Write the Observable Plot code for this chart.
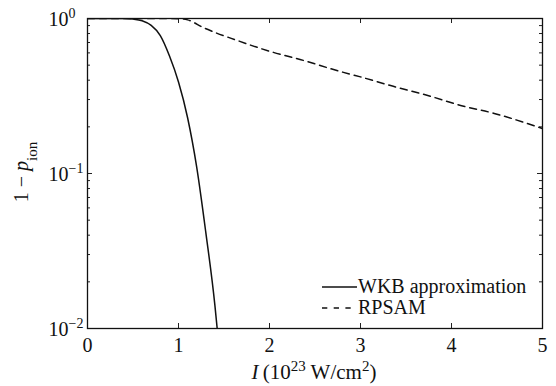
<!DOCTYPE html>
<html><head><meta charset="utf-8">
<script src="https://cdn.jsdelivr.net/npm/d3@7"></script>
<script src="https://cdn.jsdelivr.net/npm/@observablehq/plot@0.6"></script>
<style>
body{margin:0;background:#fff;}
#chart{position:relative;width:556px;height:386px;}
</style></head><body><div id="chart"></div>
<script>
// Intensity I (10^23 W/cm^2) and 1 - p_ion
const wkbI = [0, 0.2, 0.4, 0.5, 0.6, 0.7, 0.8, 0.9, 1.0, 1.1, 1.2, 1.3, 1.4, 1.425];
const wkbP = [1, 1, 0.9995, 0.991, 0.966, 0.902, 0.776, 0.575, 0.389, 0.229, 0.110, 0.0417, 0.0141, 0.01];
const rpsamI = [0, 0.5, 0.9, 1.0, 1.1, 1.27, 1.65, 2.0, 2.38, 2.75, 3.0, 3.36, 3.73, 4.1, 4.46, 5.0];
const rpsamP = [1, 1, 1, 0.998, 0.98, 0.875, 0.72, 0.615, 0.535, 0.46, 0.42, 0.365, 0.32, 0.275, 0.245, 0.195];

const xTicks = [0, 1, 2, 3, 4, 5];
const xTickLabels = ["0", "1", "2", "3", "4", "5"];
const yMajor = [1, 0.1, 0.01];
const yExpLabels = ["0", "\u22121", "\u22122"];
const yMinor = [0.02, 0.03, 0.04, 0.05, 0.06, 0.07, 0.08, 0.09, 0.2, 0.3, 0.4, 0.5, 0.6, 0.7, 0.8, 0.9];
const seriesNames = ["WKB approximation", "RPSAM"];

const wkb = wkbI.map((I, i) => ({I, p: wkbP[i]}));
const rpsam = rpsamI.map((I, i) => ({I, p: rpsamP[i]}));

const W = 556, H = 386, mL = 87, mT = 18, mR = 14, mB = 58;
const pw = W - mL - mR, ph = H - mT - mB;
const maj = 5, mnr = 3;
const FONT = "'Liberation Serif', 'Times New Roman', serif";

const plot = Plot.plot({
  width: W, height: H,
  marginLeft: mL, marginTop: mT, marginRight: mR, marginBottom: mB,
  style: {fontFamily: FONT, background: "white", color: "black", overflow: "visible"},
  x: {domain: [0, 5], axis: null},
  y: {type: "log", domain: [0.01, 1], axis: null},
  marks: [
    Plot.line(rpsam, {x: "I", y: "p", stroke: "#111", strokeWidth: 1.5, strokeDasharray: "7,5", curve: "monotone-x", clip: true}),
    Plot.line(wkb, {x: "I", y: "p", stroke: "#111", strokeWidth: 1.5, curve: "monotone-x", clip: true}),
    Plot.tickX(xTicks.slice(1, -1), {x: d => d, insetTop: ph - maj, stroke: "#222"}),
    Plot.tickX(xTicks.slice(1, -1), {x: d => d, insetBottom: ph - maj, stroke: "#222"}),
    Plot.tickY(yMajor, {y: d => d, insetRight: pw - maj, stroke: "#222"}),
    Plot.tickY(yMajor, {y: d => d, insetLeft: pw - maj, stroke: "#222"}),
    Plot.tickY(yMinor, {y: d => d, insetRight: pw - mnr, stroke: "#222"}),
    Plot.tickY(yMinor, {y: d => d, insetLeft: pw - mnr, stroke: "#222"}),
    Plot.frame({stroke: "#111", strokeWidth: 1.3}),
    Plot.text(xTicks, {x: d => d, frameAnchor: "bottom", dy: 17, text: (d, i) => xTickLabels[i], fontSize: 20, lineAnchor: "middle", fill: "#111"}),
    Plot.text(yMajor, {y: d => d, frameAnchor: "left", dx: -19, dy: 1, text: () => "10", textAnchor: "end", fontSize: 20, lineAnchor: "middle", fill: "#111"}),
    Plot.text(yMajor, {y: d => d, frameAnchor: "left", dx: -19, dy: -5, text: (d, i) => yExpLabels[i], textAnchor: "start", fontSize: 14, lineAnchor: "middle", fill: "#111"})
  ]
});

const svg = d3.select(plot);
// x-axis label
const xl = svg.append("text").attr("x", 314).attr("y", 379).attr("text-anchor", "middle")
  .attr("font-size", 21).attr("fill", "#111").attr("font-family", FONT);
xl.append("tspan").attr("font-style", "italic").text("I");
xl.append("tspan").text("\u2009(10");
xl.append("tspan").attr("font-size", 15).attr("dy", -8).text("23");
xl.append("tspan").attr("dy", 8).text(" W/cm");
xl.append("tspan").attr("font-size", 15).attr("dy", -8).text("2");
xl.append("tspan").attr("dy", 8).text(")");

// y-axis label
const yl = svg.append("text").attr("transform", "translate(28,172) rotate(-90)").attr("text-anchor", "middle")
  .attr("font-size", 20).attr("fill", "#111").attr("font-family", FONT);
yl.append("tspan").text("1 \u2212 ");
yl.append("tspan").attr("font-style", "italic").text("p");
yl.append("tspan").attr("font-size", 15).attr("dy", 9).text("ion");

// legend
const leg = svg.append("g").attr("font-family", FONT).attr("font-size", 20).attr("fill", "#111").attr("text-anchor", "start");
const rows = [{dash: null, x2: 357}, {dash: "5.3,6.4", x2: 351}];
rows.forEach((r, i) => {
  const y = 287 + i * 21;
  leg.append("line").attr("x1", 322).attr("x2", r.x2).attr("y1", y).attr("y2", y)
    .attr("stroke", "#111").attr("stroke-width", 1.4).attr("stroke-dasharray", r.dash);
  leg.append("text").attr("x", 358).attr("y", y + 5.5).attr("text-anchor", "start").text(seriesNames[i]);
});

document.getElementById("chart").appendChild(plot);
</script></body></html>
